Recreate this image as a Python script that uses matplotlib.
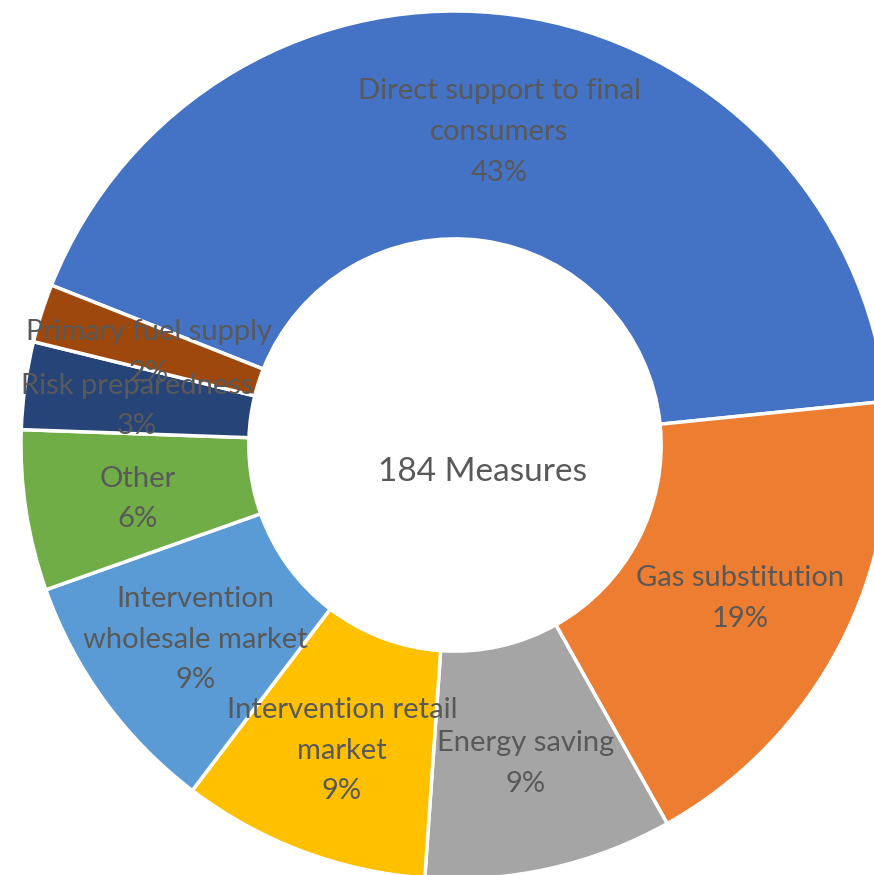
import numpy as np
import matplotlib
matplotlib.use('Agg')
import matplotlib.pyplot as plt

# measures per category (184 in total), slice sizes
categories = ['Direct support to final\nconsumers', 'Gas substitution', 'Energy saving',
              'Intervention retail\nmarket', 'Intervention\nwholesale market', 'Other',
              'Risk preparedness', 'Primary fuel supply']
counts = [78, 34, 17, 17, 17, 11, 6, 4]
# percentages as printed on the chart
pct_labels = [43, 19, 9, 9, 9, 6, 3, 2]
colors = ['#4472C4', '#ED7D31', '#A5A5A5', '#FFC000', '#5B9BD5', '#70AD47', '#264478', '#9E480E']

plt.rcParams['font.family'] = ['Lato', 'DejaVu Sans']

fig = plt.figure(figsize=(8.74, 8.75), dpi=100)
W, H = 874, 875
cx, cy, R = 455, 445, 434   # pie centre / radius in pixels (pie runs off the right edge)
ax = fig.add_axes([(cx - R) / W, (H - cy - R) / H, 2 * R / W, 2 * R / H])

wedges, _ = ax.pie(counts, colors=colors, startangle=158.4, counterclock=False, radius=1,
                   wedgeprops=dict(width=0.525, edgecolor='white', linewidth=2.5))
ax.set_xlim(-1, 1)
ax.set_ylim(-1, 1)
ax.set_aspect('equal')
ax.axis('off')

for w, lab, pct in zip(wedges, categories, pct_labels):
    mid = np.deg2rad((w.theta1 + w.theta2) / 2)
    ax.text(0.74 * np.cos(mid), 0.74 * np.sin(mid) - 0.012, f'{lab}\n{pct}%', ha='center',
            va='center', fontsize=21, color='#595959', linespacing=1.7)

ax.text(0.064, -0.062, f'{sum(counts)} Measures', ha='center', va='center', fontsize=24,
        color='#595959')

fig.savefig('out.png', dpi=100)
